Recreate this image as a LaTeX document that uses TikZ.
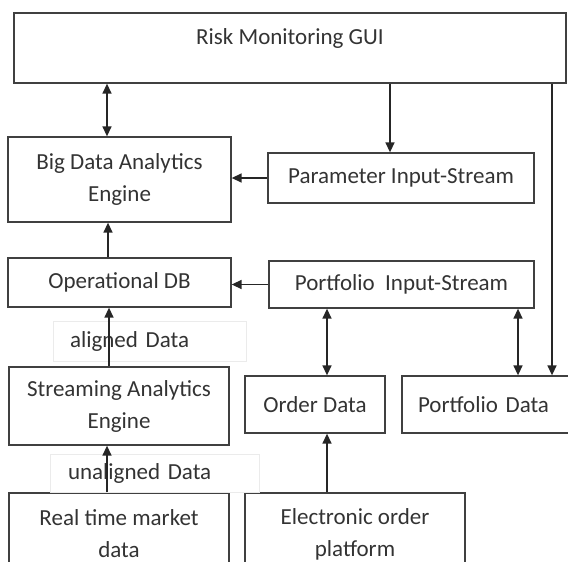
\documentclass[tikz,border=0pt]{standalone}
\usepackage{fontspec}
\setmainfont{Carlito}
\usetikzlibrary{arrows.meta}

\begin{document}
\begin{tikzpicture}[x=1pt, y=-1pt, >={Triangle[length=10pt,width=9pt]},
  box/.style={draw=black!75, line width=1.3pt, text=black!80, align=center, inner sep=0pt, font=\fontsize{23}{32}\selectfont},
  tag/.style={draw=black!8, fill=white, line width=0.8pt, text=black!80, inner sep=0pt, align=left, font=\fontsize{23}{32}\selectfont},
  link/.style={draw=black!85, line width=1.4pt}]
  \useasboundingbox (0,0) rectangle (568,562);
  \clip (0,0) rectangle (568,562);

  \node[box, minimum width=552, minimum height=70, text height=16pt, text depth=24pt] (gui) at (290,48) {Risk Monitoring GUI};
  \node[box, minimum width=223, minimum height=85] (engine) at (119.5,179.5) {Big Data Analytics\\Engine};
  \node[box, minimum width=266, minimum height=50] (param) at (401,178) {Parameter Input-Stream};
  \node[box, minimum width=223, minimum height=49] (opdb) at (119.5,282.5) {Operational DB};
  \node[box, minimum width=265, minimum height=47] (portin) at (401.5,284.5) {Portfolio~ Input-Stream};
  \node[box, minimum width=220, minimum height=78] (stream) at (119,406) {Streaming Analytics\\Engine};
  \node[box, minimum width=140, minimum height=57] (order) at (315,404.5) {Order Data};
  \node[box, minimum width=188, minimum height=57, text width=156, align=left] (portdata) at (496,404.5) {Portfolio Data};
  \node[box, minimum width=220, minimum height=81] (market) at (119,533.5) {Real time market\\data};
  \node[box, minimum width=220, minimum height=83] (eop) at (355,534.5) {Electronic order\\platform};

  % labels on the data feeds
  \node[tag, minimum width=193, minimum height=40, text width=159] (aligned) at (149.5,341) {aligned Data};
  \node[tag, minimum width=209, minimum height=38, text width=173] (unaligned) at (154.5,473) {unaligned Data};

  \coordinate (xa) at (107,0);
  \coordinate (xb) at (390,0);
  \coordinate (xc) at (552,0);
  \coordinate (xd) at (108,0);
  \coordinate (xe) at (109,0);
  \coordinate (xf) at (327,0);
  \coordinate (xg) at (518,0);

  \draw[link,<->] (xa |- gui.south) -- (xa |- engine.north);
  \draw[link,->] (xb |- gui.south) -- (xb |- param.north);
  \draw[link,->] (xc |- gui.south) -- (xc |- portdata.north);
  \draw[link,->] (param.west) -- (param.west -| engine.east);
  \draw[link,->] (xd |- opdb.north) -- (xd |- engine.south);
  \draw[link,->] (portin.west) -- (portin.west -| opdb.east);
  \draw[link,->] (xe |- stream.north) -- (xe |- opdb.south);
  \draw[link,<->] (xf |- portin.south) -- (xf |- order.north);
  \draw[link,<->] (xg |- portin.south) -- (xg |- portdata.north);
  \draw[link,->] (xa |- market.north) -- (xa |- stream.south);
  \draw[link,->] (xf |- eop.north) -- (xf |- order.south);
\end{tikzpicture}
\end{document}
